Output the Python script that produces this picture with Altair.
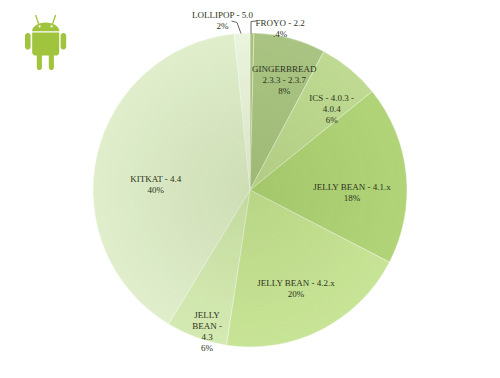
import math
import altair as alt
import pandas as pd

# ---------------- data ----------------
categories = ["FROYO - 2.2", "GINGERBREAD 2.3.3 - 2.3.7", "ICS - 4.0.3 - 4.0.4",
              "JELLY BEAN - 4.1.x", "JELLY BEAN - 4.2.x", "JELLY BEAN - 4.3",
              "KITKAT - 4.4", "LOLLIPOP - 5.0"]
shares = [0.4, 7.4, 6.4, 18.4, 19.8, 6.3, 39.7, 1.6]
label_texts = ["", "GINGERBREAD\n2.3.3 - 2.3.7\n8%", "ICS - 4.0.3 -\n4.0.4\n6%",
               "JELLY BEAN - 4.1.x\n18%", "JELLY BEAN - 4.2.x\n20%",
               "JELLY\nBEAN -\n4.3\n6%", "KITKAT - 4.4\n40%", ""]
callout_texts = ["LOLLIPOP - 5.0\n2%", "FROYO - 2.2\n.4%"]

# ---------------- style / layout ----------------
slice_colors = ["#a9c27e", "#aac483", "#bfda92", "#b1d478", "#c8e496",
                "#d4eab3", "#e0eecc", "#ebf4de"]
label_radius = [0, 126, 123, 102, 104, 132, 95, 0]
label_nudge_deg = [0, 1, 2, 4, 0.7, -1, -6, 0]
CX, CY, R = 250, 190, 157
FONT = "Liberation Serif"
TXT = "#2c3320"
FS = 9

total = sum(shares)
rows = []
cum = 0.0
for i, (c, s) in enumerate(zip(categories, shares)):
    mid = (cum + s / 2) / total * 2 * math.pi + math.radians(label_nudge_deg[i])
    rows.append({"idx": i, "category": c, "share": s, "label": label_texts[i],
                 "label_theta": mid, "label_r": label_radius[i]})
    cum += s
df = pd.DataFrame(rows)

color_scale = alt.Scale(domain=categories, range=slice_colors)

pie = alt.Chart(df).mark_arc(radius=R, x=CX, y=CY, stroke="#ffffff",
                             strokeWidth=0.6, strokeOpacity=0.6).encode(
    theta=alt.Theta("share:Q", stack=True),
    order=alt.Order("idx:Q"),
    color=alt.Color("category:N", scale=color_scale, legend=None),
)

shade = alt.Chart(pd.DataFrame({"a": [0]})).mark_arc(
    radius=R, theta=0, theta2=2 * math.pi, x=CX, y=CY,
    color=alt.Gradient(gradient="radial",
                       stops=[alt.GradientStop(color="rgba(80,110,20,0.13)", offset=0),
                              alt.GradientStop(color="rgba(80,110,20,0.04)", offset=0.7),
                              alt.GradientStop(color="rgba(80,110,20,0)", offset=1)],
                       x1=0.5, y1=0.5, r1=0, x2=0.5, y2=0.5, r2=0.5),
).encode(x=alt.value(CX))

labels = alt.Chart(df[df["label"] != ""]).mark_text(
    font=FONT, fontSize=FS, lineHeight=11, lineBreak="\n", color=TXT,
    align="center", baseline="middle", x=CX, y=CY,
).encode(
    theta=alt.Theta("label_theta:Q", scale=None),
    radius=alt.Radius("label_r:Q", scale=None),
    text="label:N",
)

one = pd.DataFrame({"a": [0]})
call_lolli = alt.Chart(one).mark_text(font=FONT, fontSize=FS, lineHeight=11,
                                      lineBreak="\n", color=TXT, align="center",
                                      baseline="middle").encode(
    x=alt.value(222.5), y=alt.value(15), text=alt.value(callout_texts[0]))
call_froyo = alt.Chart(one).mark_text(font=FONT, fontSize=FS, lineHeight=11,
                                      lineBreak="\n", color=TXT, align="center",
                                      baseline="middle").encode(
    x=alt.value(280), y=alt.value(23), text=alt.value(callout_texts[1]))

segs = [(231.5, 21, 237, 22.5), (237, 22.5, 241, 33.5),
        (251, 33.5, 251, 21.5), (251, 21.5, 256.5, 21)]
leaders = [alt.Chart(one).mark_rule(color="#666666", strokeWidth=1).encode(
    x=alt.value(a), y=alt.value(b), x2=alt.value(c), y2=alt.value(d))
    for a, b, c, d in segs]

# ---------------- android logo (decoration) ----------------
LX, LY, HALF = 45.5, 42.0, 28.0


def orient(pts):
    area = sum(pts[i][0] * pts[(i + 1) % len(pts)][1] - pts[(i + 1) % len(pts)][0] * pts[i][1]
               for i in range(len(pts)))
    return pts if area > 0 else pts[::-1]


def rrect(x0, y0, x1, y1, rt, rb, n=6):
    pts = []
    for (cx, cy, r, a0) in [(x1 - rb, y1 - rb, rb, 0), (x0 + rb, y1 - rb, rb, 90),
                            (x0 + rt, y0 + rt, rt, 180), (x1 - rt, y0 + rt, rt, 270)]:
        if r == 0:
            pts.append((cx, cy))
            continue
        for k in range(n + 1):
            a = math.radians(a0 + 90 * k / n)
            pts.append((cx + r * math.cos(a), cy + r * math.sin(a)))
    return pts


def dome(cx, by, a, b, n=20):
    return [(cx + a * math.cos(math.pi - math.pi * k / n),
             by - b * math.sin(math.pi - math.pi * k / n)) for k in range(n + 1)]


def quad(x0, y0, x1, y1, w):
    dx, dy = x1 - x0, y1 - y0
    L = math.hypot(dx, dy)
    nx, ny = -dy / L * w / 2, dx / L * w / 2
    return [(x0 + nx, y0 + ny), (x1 + nx, y1 + ny), (x1 - nx, y1 - ny), (x0 - nx, y0 - ny)]


polys = [dome(45.7, 31.2, 13.6, 8.6),
         rrect(32.2, 32.6, 59.2, 55.5, 0, 3),
         rrect(25.0, 33.0, 30.6, 49.5, 2.8, 2.8),
         rrect(60.6, 33.0, 66.2, 49.5, 2.8, 2.8),
         rrect(36.8, 50.0, 41.9, 70.0, 0, 2.5),
         rrect(48.8, 50.0, 53.9, 70.0, 0, 2.5),
         quad(35.6, 15.0, 39.0, 25.0, 1.3),
         quad(55.6, 15.0, 52.2, 25.0, 1.3)]
path = ""
for p in polys:
    p = orient(p)
    path += "M" + " L".join(f"{(x - LX) / HALF:.4f},{(y - LY) / HALF:.4f}" for x, y in p) + " Z "

logo = alt.Chart(one).mark_point(shape=path.strip(), filled=True, size=(2 * HALF) ** 2,
                                 color="#a0c43e", opacity=1, strokeWidth=0).encode(
    x=alt.value(LX), y=alt.value(LY))
eyes = alt.Chart(pd.DataFrame({"ex": [39.6, 51.6]})).mark_point(
    filled=True, size=5, color="#ffffff", opacity=1, shape="circle").encode(
    x=alt.X("ex:Q", scale=None), y=alt.value(26.3))

chart = alt.layer(pie, shade, labels, call_lolli, call_froyo, *leaders, logo, eyes).resolve_scale(
    theta="independent", radius="independent"
).properties(
    width=500, height=378, padding=0, autosize=alt.AutoSizeParams(type="none"),
    background="#ffffff",
).configure_view(stroke=None)

chart.save("out.html", embed_options={"renderer": "svg", "actions": False})
